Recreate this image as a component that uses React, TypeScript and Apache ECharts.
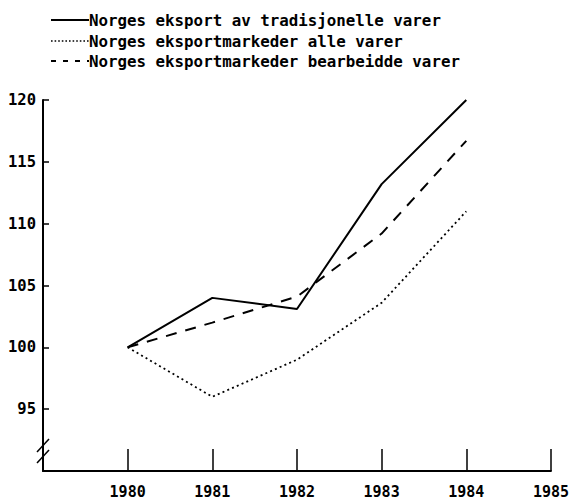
import React, { useEffect, useRef } from "react";
import * as echarts from "echarts";

const years = [1980, 1981, 1982, 1983, 1984];
const tradisjonelle = [100, 104, 103.1, 113.2, 120];
const alleVarer = [100, 96, 99, 103.6, 111];
const bearbeidde = [100, 102, 104.1, 109.2, 116.7];
const seriesNames = [
  "Norges eksport av tradisjonelle varer",
  "Norges eksportmarkeder alle varer",
  "Norges eksportmarkeder bearbeidde varer",
];
const xTicks = [1980, 1981, 1982, 1983, 1984, 1985];
const yTicks = [95, 100, 105, 110, 115, 120];

const FONT = "DejaVu Sans Mono";
const lineTypes: any[] = ["solid", [2, 3.2], [11, 9]];
const seriesData = [tradisjonelle, alleVarer, bearbeidde];

export default function App() {
  const ref = useRef<HTMLDivElement>(null);
  useEffect(() => {
    if (!ref.current) return;
    const chart = echarts.init(ref.current, null, { renderer: "svg" });
    const pair = (vals: number[]) => years.map((y, i) => [y, vals[i]]);
    const legendRows = [20, 41, 61];
    const legendGraphics: any[] = [];
    seriesNames.forEach((name, i) => {
      legendGraphics.push({
        type: "line",
        shape: { x1: 51, y1: legendRows[i], x2: 89, y2: legendRows[i] },
        style: { stroke: "#000", lineWidth: i === 1 ? 1.6 : 2, lineDash: i === 0 ? null : i === 1 ? [1.6, 2] : [5, 7] },
      });
      legendGraphics.push({
        type: "text",
        x: 89,
        y: legendRows[i],
        style: {
          text: name,
          fill: "#000",
          font: `bold 15.8px "${FONT}"`,
          textVerticalAlign: "middle",
          verticalAlign: "middle",
        },
      });
    });
    chart.setOption({
      animation: false,
      backgroundColor: "#fff",
      grid: { left: 43, top: 100, width: 510, height: 372, containLabel: false },
      xAxis: {
        type: "value",
        min: 1979,
        max: 1985,
        interval: 1,
        splitLine: { show: false },
        axisLine: { show: true, lineStyle: { color: "#000", width: 2 } },
        axisTick: {
          show: true,
          inside: true,
          length: 22,
          lineStyle: { color: "#000", width: 1.5 },
          customValues: xTicks,
        },
        axisLabel: {
          customValues: xTicks,
          margin: 13,
          color: "#000",
          fontFamily: FONT,
          fontWeight: "bold",
          fontSize: 15,
          formatter: (v: number) => String(v),
        },
      },
      yAxis: {
        type: "value",
        min: 90,
        max: 120,
        interval: 5,
        splitLine: { show: false },
        axisLine: { show: true, lineStyle: { color: "#000", width: 2 } },
        axisTick: {
          show: true,
          inside: true,
          length: 6,
          lineStyle: { color: "#000", width: 1.5 },
          customValues: yTicks,
        },
        axisLabel: {
          customValues: yTicks,
          margin: 7,
          color: "#000",
          fontFamily: FONT,
          fontWeight: "bold",
          fontSize: 15.5,
        },
      },
      graphic: [
        { type: "line", shape: { x1: 37, y1: 452, x2: 49, y2: 439 }, style: { stroke: "#000", lineWidth: 1.5 } },
        { type: "line", shape: { x1: 37, y1: 463, x2: 49, y2: 450 }, style: { stroke: "#000", lineWidth: 1.5 } },
        ...legendGraphics,
      ],
      series: seriesNames.map((name, i) => ({
        name,
        type: "line",
        data: pair(seriesData[i]),
        showSymbol: false,
        symbol: "none",
        lineStyle: { color: "#000", width: i === 1 ? 1.8 : 2, type: lineTypes[i] },
        itemStyle: { color: "#000" },
      })),
    });
    return () => chart.dispose();
  }, []);
  return <div ref={ref} style={{ width: 572, height: 499, position: "absolute", left: 0, top: 0 }} />;
}
